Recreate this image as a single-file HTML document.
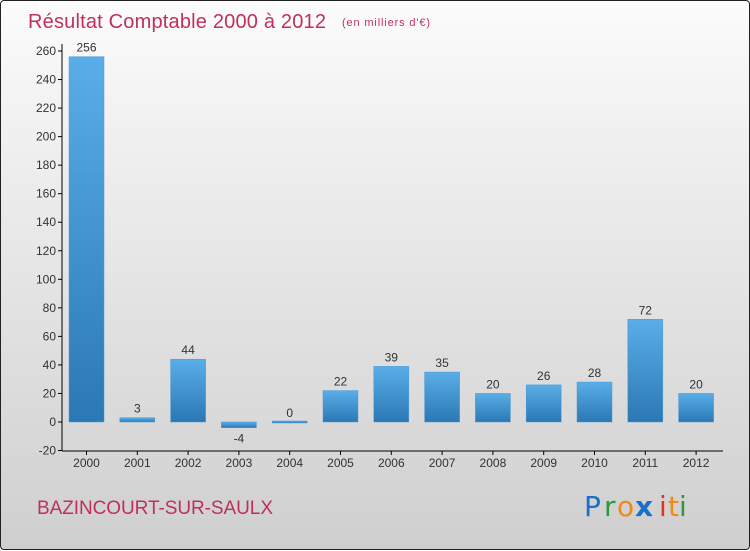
<!DOCTYPE html>
<html><head><meta charset="utf-8"><style>
body{margin:0;width:750px;height:550px;overflow:hidden}
#c{position:absolute;left:0;top:0;width:748px;height:548px;border:1px solid #222;border-radius:4px;background:linear-gradient(#fcfcfc,#f2f2f2 20%,#cfcfcf);font-family:"Liberation Sans",sans-serif}
</style></head><body>
<div id="c">
<svg id="s" width="750" height="550" style="position:absolute;left:0;top:0">
<defs><linearGradient id="g" x1="0" y1="0" x2="0" y2="1"><stop offset="0" stop-color="#5aaee8"/><stop offset="1" stop-color="#2a78b4"/></linearGradient></defs>
<text x="27" y="27" font-size="20" fill="#c0305a" textLength="298">Résultat Comptable 2000 à 2012</text>
<text x="341" y="25" font-size="11" fill="#c0305a" textLength="88">(en milliers d'€)</text>
<text x="36" y="513" font-size="19" fill="#c0305a" textLength="236">BAZINCOURT-SUR-SAULX</text>
<g font-size="28" font-family="'DejaVu Sans',sans-serif">
<text x="583" y="515" fill="#1a70c8">P</text><text x="603" y="515" fill="#2a9a3a">r</text><text x="616" y="515" fill="#f08a10">o</text><text x="634" y="515" fill="#1a70c8" font-weight="bold">x</text><text x="658" y="515" fill="#e83020">i</text><text x="667" y="515" fill="#f08a10">t</text><text x="678" y="515" fill="#2a9a3a">i</text></g>
</svg>
</div>
<script>
const years=["2000","2001","2002","2003","2004","2005","2006","2007","2008","2009","2010","2011","2012"];
const values=[256,3,44,-4,0,22,39,35,20,26,28,72,20];
const ticks=[-20,0,20,40,60,80,100,120,140,160,180,200,220,240,260];
const s=document.getElementById('s');const NS='http://www.w3.org/2000/svg';
const y=v=>421-v*(371/260);const x=i=>85.5+i*50.8;
function mk(t,a){const e=document.createElementNS(NS,t);for(const k in a)e.setAttribute(k,a[k]);s.appendChild(e);return e;}
let e=mk('line',{x1:61,y1:43,x2:61,y2:450,stroke:'#000'});


e=mk('line',{x1:61,y1:450,x2:722,y2:450,stroke:'#000'});


ticks.forEach(t=>{
 let l=mk('line',{x1:57,y1:y(t),x2:61,y2:y(t),stroke:'#000'});
 
 
 let tx=mk('text',{x:55,y:y(t)+4,'font-size':12,'text-anchor':'end',fill:'#333'});tx.textContent=t;
 
 
});
years.forEach((yr,i)=>{
 const v=values[i];const top=Math.min(y(v),y(0)),h=Math.max(Math.abs(y(v)-y(0)),2);
 let r=mk('rect',{x:x(i)-17.5,y:v===0?y(0)-1:top,width:35,height:h,fill:'url(#g)',stroke:'#4a9ad8','stroke-width':0.5});
 
 
 let lb=mk('text',{x:x(i),y:v>=0?top-5:y(v)+15,'font-size':12,'text-anchor':'middle',fill:'#333'});lb.textContent=v;
 
 
 let tk=mk('line',{x1:x(i),y1:450,x2:x(i),y2:454,stroke:'#000'});
 
 
 let xl=mk('text',{x:x(i),y:466,'font-size':12,'text-anchor':'middle',fill:'#333'});xl.textContent=yr;
 
 
});
</script>
</body></html>
